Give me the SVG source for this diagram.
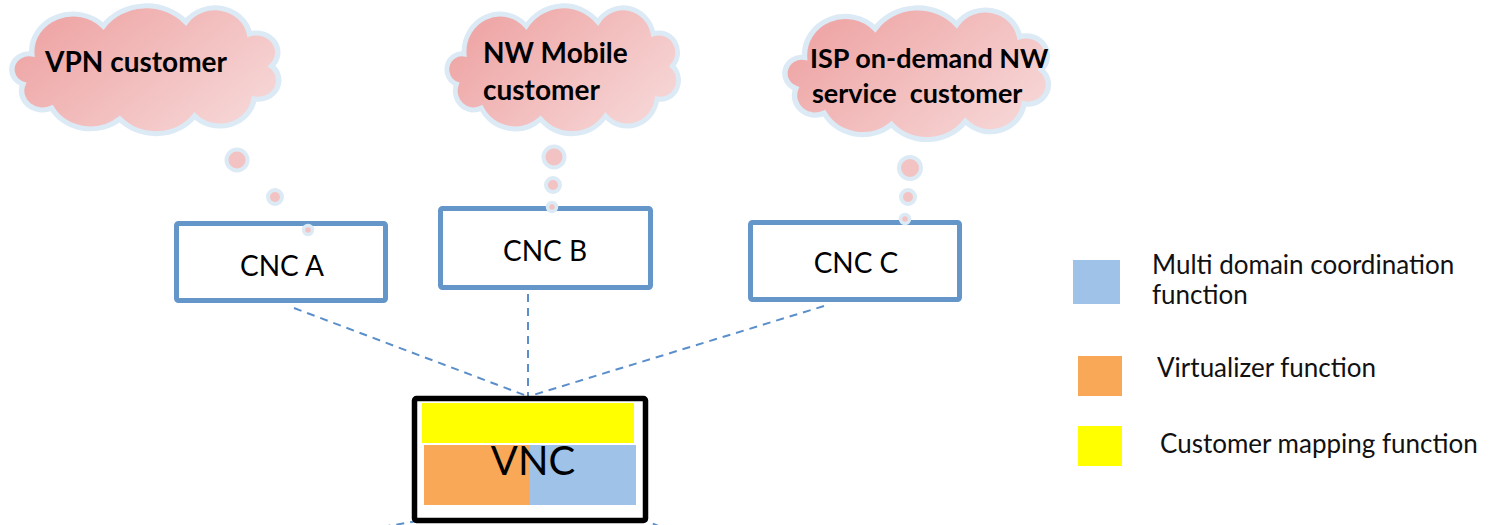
<svg xmlns="http://www.w3.org/2000/svg" width="1495" height="525" viewBox="0 0 1495 525">
  <style>
    .cloud { fill: url(#cloudFill); stroke: #dbeaf5; stroke-width: 5; vector-effect: non-scaling-stroke; }
    .bubble { fill: #f3c3c3; stroke: #dbeaf5; stroke-width: 4; }
    .dot { fill: #f3c3c3; stroke: #dbeaf5; stroke-width: 3.5; }
    .ctext { font-family: Lato, "Liberation Sans", sans-serif; font-weight: bold; font-size: 28px; fill: #000; }
    .cnc { fill: #fff; stroke: #6596c9; stroke-width: 5; }
    .label { font-family: Lato, "Liberation Sans", sans-serif; font-size: 28px; fill: #000; text-anchor: middle; }
    .legend { font-family: Lato, "Liberation Sans", sans-serif; font-size: 26px; fill: #111; }
    .link { fill: none; stroke: #5b8fcb; stroke-width: 2; stroke-dasharray: 8 6; }
  </style>
  <defs>
    <linearGradient id="cloudFill" x1="0" y1="0.2" x2="1" y2="0.8">
      <stop offset="0" stop-color="#eea2a2"/>
      <stop offset="1" stop-color="#f7d8d8"/>
    </linearGradient>
    <!-- generic cloud outline, roughly 12..256 x 2..130 -->
    <path id="cloudShape" d="M 30 50 A 37.6 37.6 0 0 1 95 22 A 48 48 0 0 1 170 18 A 32 32 0 0 1 228 30 A 19.4 19.4 0 0 1 248 62 A 19 19 0 0 1 232 95 A 31.3 31.3 0 0 1 178 112 A 44 44 0 0 1 110 115 A 40.6 40.6 0 0 1 48 104 A 19 19 0 0 1 22 80 A 15.6 15.6 0 0 1 30 50 Z"/>
  </defs>

  <!-- dashed links between controllers -->
  <g id="connectors">
    <line class="link" x1="294" y1="308" x2="527" y2="396"/>
    <line class="link" x1="528" y1="294" x2="528" y2="396"/>
    <line class="link" x1="824" y1="306" x2="530" y2="396"/>
    <line class="link" x1="418" y1="521" x2="370" y2="529"/>
    <line class="link" x1="627" y1="513" x2="690" y2="539"/>
  </g>

  <!-- customer network controllers -->
  <g id="cnc-a">
    <rect class="cnc" x="176.5" y="223.5" width="209" height="77" rx="2"/>
    <text class="label" x="282" y="276">CNC A</text>
  </g>
  <g id="cnc-b">
    <rect class="cnc" x="440.5" y="208.5" width="210" height="79" rx="2"/>
    <text class="label" x="545" y="261">CNC B</text>
  </g>
  <g id="cnc-c">
    <rect class="cnc" x="750.5" y="222.5" width="209" height="77" rx="2"/>
    <text class="label" x="856" y="273">CNC C</text>
  </g>

  <!-- virtual network controller -->
  <g id="vnc">
    <rect x="414.5" y="398.5" width="231" height="122" rx="2" fill="#fff" stroke="#000" stroke-width="5.5"/>
    <rect x="422" y="403" width="212" height="40" fill="#ffff00"/>
    <rect x="424" y="445" width="106" height="60" fill="#f9a857"/>
    <rect x="530" y="445" width="106" height="60" fill="#9fc2e9"/>
    <text class="label" x="533" y="475" style="font-size:40px">VNC</text>
  </g>

  <!-- customer clouds -->
  <g id="cloud-vpn">
    <use href="#cloudShape" class="cloud" transform="translate(-1.2 4) scale(1.1 1.0)"/>
    <circle class="bubble" cx="237" cy="160" r="10.5"/>
    <circle class="bubble" cx="275" cy="197" r="7"/>
    <circle class="dot" cx="308" cy="230" r="4.5"/>
    <text class="ctext" x="45" y="72">VPN customer</text>
  </g>
  <g id="cloud-mobile">
    <use href="#cloudShape" class="cloud" transform="translate(435.5 4) scale(0.955 1.0)"/>
    <circle class="bubble" cx="554" cy="157" r="10.5"/>
    <circle class="bubble" cx="553" cy="185" r="7"/>
    <circle class="dot" cx="552" cy="207" r="4.5"/>
    <text class="ctext" x="483" y="63">NW Mobile</text>
    <text class="ctext" x="483" y="100">customer</text>
  </g>
  <g id="cloud-isp">
    <use href="#cloudShape" class="cloud" transform="translate(772 6) scale(1.086 1.03)"/>
    <circle class="bubble" cx="910" cy="168" r="11"/>
    <circle class="bubble" cx="908" cy="197" r="7"/>
    <circle class="dot" cx="905" cy="219" r="4.5"/>
    <text class="ctext" x="810" y="68" style="font-size:27px">ISP on-demand NW</text>
    <text class="ctext" x="812" y="103" style="font-size:27px" xml:space="preserve">service  customer</text>
  </g>

  <!-- legend -->
  <g id="legend">
    <rect x="1073" y="260" width="47" height="44" fill="#9fc2e9"/>
    <text class="legend" x="1152" y="274">Multi domain coordination</text>
    <text class="legend" x="1152" y="304">function</text>
    <rect x="1078" y="356" width="44" height="40" fill="#f9a857"/>
    <text class="legend" x="1157" y="377">Virtualizer function</text>
    <rect x="1078" y="426" width="44" height="40" fill="#ffff00"/>
    <text class="legend" x="1160" y="453">Customer mapping function</text>
  </g>
</svg>
